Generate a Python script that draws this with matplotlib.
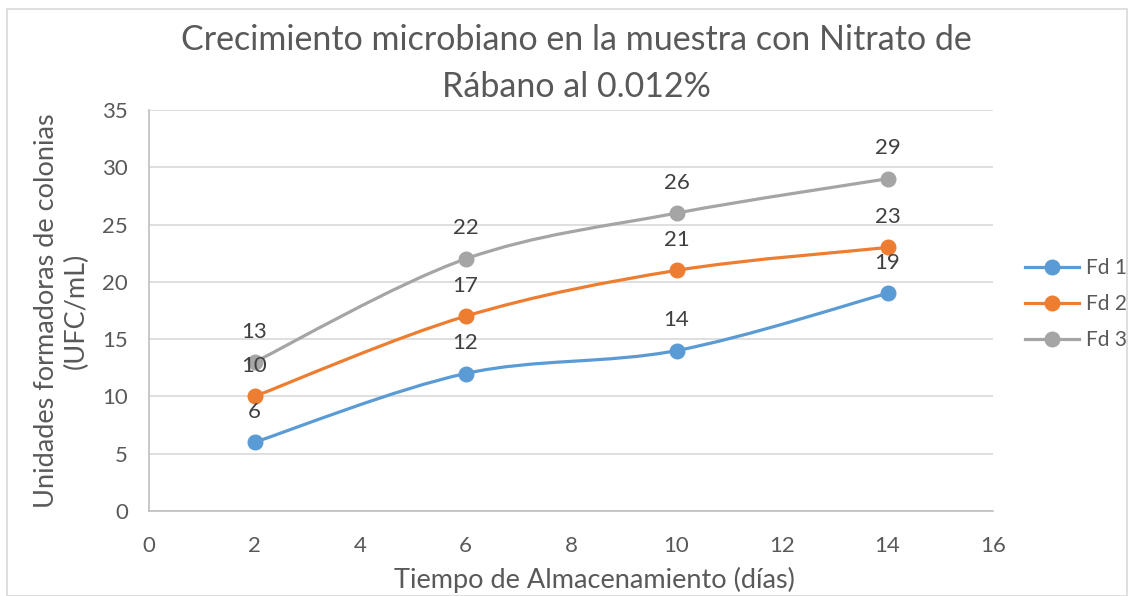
import numpy as np
import matplotlib
matplotlib.use('Agg')
import matplotlib.pyplot as plt
from matplotlib.path import Path
from matplotlib.patches import PathPatch, Rectangle
from matplotlib.lines import Line2D

plt.rcParams['font.family'] = ['Lato', 'DejaVu Sans']

# datos
dias = [2, 6, 10, 14]
fd1 = [6, 12, 14, 19]
fd2 = [10, 17, 21, 23]
fd3 = [13, 22, 26, 29]
series = [('Fd 1', fd1, '#5B9BD5'), ('Fd 2', fd2, '#ED7D31'), ('Fd 3', fd3, '#A5A5A5')]

titulo = ['Crecimiento microbiano en la muestra con Nitrato de', 'Rábano al 0.012%']
x_label = 'Tiempo de Almacenamiento (días)'
y_label = 'Unidades formadoras de colonias\n(UFC/mL)'

GRIS_TXT = '#595959'
W, H = 1132, 596


def curva_suave(xs, ys):
    """Bezier tipo Excel (Catmull-Rom) entre los puntos"""
    pts = np.column_stack([xs, ys]).astype(float)
    n = len(pts)
    verts = [pts[0]]
    codes = [Path.MOVETO]
    for i in range(n - 1):
        p0 = pts[max(i - 1, 0)]
        p1 = pts[i]
        p2 = pts[i + 1]
        p3 = pts[min(i + 2, n - 1)]
        c1 = p1 + (p2 - p0) / 6.0
        c2 = p2 - (p3 - p1) / 6.0
        verts += [c1, c2, p2]
        codes += [Path.CURVE4] * 3
    return Path(verts, codes)


fig = plt.figure(figsize=(W / 100, H / 100), dpi=100)
ax = fig.add_axes([149 / W, 1 - 511 / H, (993 - 149) / W, (511 - 110) / H])

# borde del área del gráfico
fig.patches.append(Rectangle((7 / W, 0), 1120 / W, 1 - 9 / H, transform=fig.transFigure,
                             fill=False, edgecolor='#D9D9D9', linewidth=1.2))

for nombre, ys, color in series:
    ax.add_patch(PathPatch(curva_suave(dias, ys), fill=False, edgecolor=color,
                           linewidth=2.3, capstyle='round', zorder=3))
    ax.plot(dias, ys, 'o', color=color, markersize=10.5, zorder=4)
    for xv, yv in zip(dias, ys):
        ax.annotate(str(yv), (xv, yv), xytext=(0, 22), textcoords='offset points',
                    ha='center', va='center', fontsize=16, color='#404040', zorder=5)

ax.set_xlim(0, 16)
ax.set_ylim(0, 35)
ax.set_xticks(range(0, 17, 2))
ax.set_yticks(range(0, 36, 5))
ax.grid(axis='y', color='#D9D9D9', linewidth=1.2)
ax.set_axisbelow(True)
for lado in ['top', 'right']:
    ax.spines[lado].set_visible(False)
for lado in ['left', 'bottom']:
    ax.spines[lado].set_color('#BFBFBF')
    ax.spines[lado].set_linewidth(1.2)
ax.tick_params(length=0, labelsize=16, colors=GRIS_TXT)
ax.tick_params(axis='x', pad=18)
ax.tick_params(axis='y', pad=15)

ax.set_xlabel(x_label, fontsize=19.5, color=GRIS_TXT, labelpad=8, x=0.528)
ax.set_ylabel(y_label, fontsize=19.5, color=GRIS_TXT, labelpad=10)

# título en dos líneas (líneas base medidas)
for linea, base in zip(titulo, [50, 97]):
    fig.text(576 / W, 1 - base / H, linea, ha='center', va='baseline', fontsize=24.5,
             color=GRIS_TXT)

handles = [Line2D([], [], color=c, linewidth=2.3, marker='o', markersize=10.5) for _, _, c in series]
ax.legend(handles, [s[0] for s in series], loc='center left', bbox_to_anchor=(1.016, 0.516),
          frameon=False, fontsize=15, labelcolor=GRIS_TXT, handlelength=2.6,
          handletextpad=0.3, labelspacing=0.78)

fig.savefig('out.png', dpi=100)
